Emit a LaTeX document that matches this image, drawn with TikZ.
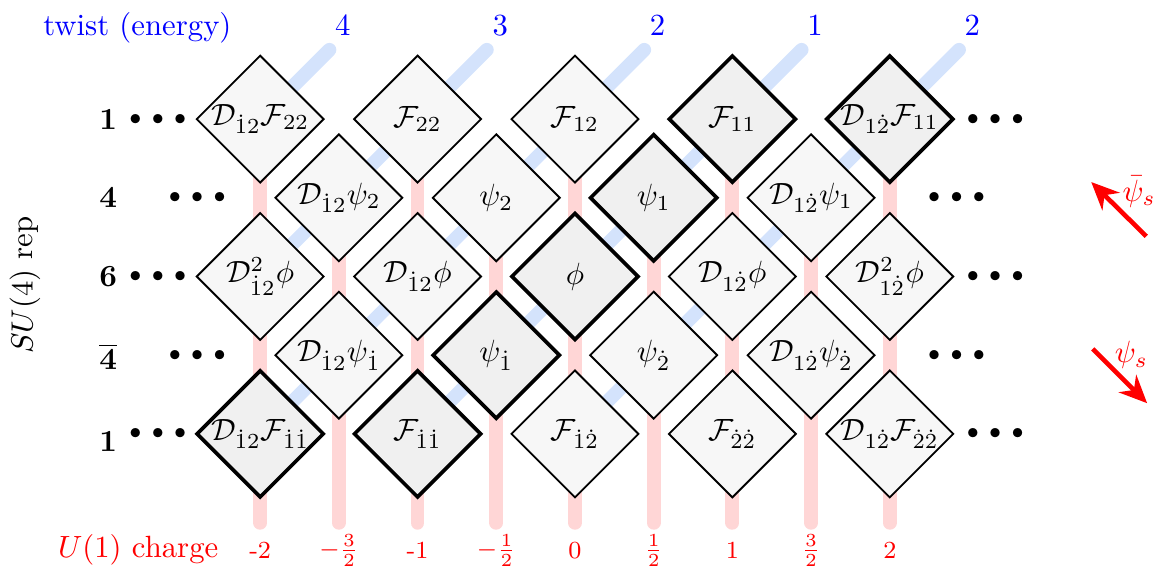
\documentclass[tikz,border=0pt]{standalone}
\usepackage{amsmath,amssymb}
\usepackage{xcolor}
\usetikzlibrary{arrows.meta,positioning,calc,backgrounds,shapes.geometric}
\definecolor{TwC}{RGB}{212,227,252}
\definecolor{ChC}{RGB}{255,214,214}
\definecolor{OpC}{RGB}{247,247,247}
\definecolor{OpK}{RGB}{240,240,240}
\tikzset{
  op/.style={diamond,draw=black,semithick,fill=OpC,minimum size=14.6mm,inner sep=0pt},
  opk/.style={op,very thick,fill=OpK},
  twl/.style={line width=4.5pt,line cap=round,TwC},
  chl/.style={line width=4.5pt,line cap=round,ChC},
  twn/.style={text=blue},
  chn/.style={text=red,font=\footnotesize},
  rep/.style={font=\bfseries},
  dots/.style={font=\scriptsize},
  flow/.style={-{Stealth[length=9pt,width=8pt]},line width=1.5pt,red},
}

\begin{document}
\begin{tikzpicture}[x=0.9cm,y=0.9cm]
  \useasboundingbox (-7.306,-3.691) rectangle (7.370,3.513);

  % operators, one row per SU(4) rep
  \node[op, label=center:{$\mathcal{D}_{\dot{1}2}\mathcal{F}_{22}$}] (DaF22) at (-4,2) {};
  \node[op, label=center:{$\mathcal{F}_{22}$}] (F22) at (-2,2) {};
  \node[op, label=center:{$\mathcal{F}_{12}$}] (F12) at (0,2) {};
  \node[opk,label=center:{$\mathcal{F}_{11}$}] (F11) at (2,2) {};
  \node[opk,label=center:{$\mathcal{D}_{1\dot{2}}\mathcal{F}_{11}$}] (DbF11) at (4,2) {};

  \node[op, label=center:{$\mathcal{D}_{\dot{1}2}\psi_2$}] (DaPsi2) at (-3,1) {};
  \node[op, label=center:{$\psi_2$}] (Psi2) at (-1,1) {};
  \node[opk,label=center:{$\psi_1$}] (Psi1) at (1,1) {};
  \node[op, label=center:{$\mathcal{D}_{1\dot{2}}\psi_1$}] (DbPsi1) at (3,1) {};

  \node[op, label=center:{$\mathcal{D}_{\dot{1}2}^2\phi$}] (DDaPhi) at (-4,0) {};
  \node[op, label=center:{$\mathcal{D}_{\dot{1}2}\phi$}] (DaPhi) at (-2,0) {};
  \node[opk,label=center:{$\phi$}] (Phi) at (0,0) {};
  \node[op, label=center:{$\mathcal{D}_{1\dot{2}}\phi$}] (DbPhi) at (2,0) {};
  \node[op, label=center:{$\mathcal{D}_{1\dot{2}}^2\phi$}] (DDbPhi) at (4,0) {};

  \node[op, label=center:{$\mathcal{D}_{\dot{1}2}\psi_{\dot{1}}$}] (DaPsia) at (-3,-1) {};
  \node[opk,label=center:{$\psi_{\dot{1}}$}] (Psia) at (-1,-1) {};
  \node[op, label=center:{$\psi_{\dot{2}}$}] (Psib) at (1,-1) {};
  \node[op, label=center:{$\mathcal{D}_{1\dot{2}}\psi_{\dot{2}}$}] (DbPsib) at (3,-1) {};

  \node[opk,label=center:{$\mathcal{D}_{\dot{1}2}\mathcal{F}_{\dot{1}\dot{1}}$}] (DaFaa) at (-4,-2) {};
  \node[opk,label=center:{$\mathcal{F}_{\dot{1}\dot{1}}$}] (Faa) at (-2,-2) {};
  \node[op, label=center:{$\mathcal{F}_{\dot{1}\dot{2}}$}] (Fab) at (0,-2) {};
  \node[op, label=center:{$\mathcal{F}_{\dot{2}\dot{2}}$}] (Fbb) at (2,-2) {};
  \node[op, label=center:{$\mathcal{D}_{1\dot{2}}\mathcal{F}_{\dot{2}\dot{2}}$}] (DbFbb) at (4,-2) {};

  \begin{scope}[on background layer]
    % twist lines
    \coordinate (tw4)  at (-3.12,2.88);
    \coordinate (tw3)  at (-1.12,2.88);
    \coordinate (tw2)  at ( 0.88,2.88);
    \coordinate (tw1)  at ( 2.88,2.88);
    \coordinate (tw2b) at ( 4.88,2.88);
    \draw[twl] (tw4)  -- (DaF22.center);
    \draw[twl] (tw3)  -- (DDaPhi.center);
    \draw[twl] (tw2)  -- (DaFaa.center);
    \draw[twl] (tw1)  -- (Faa.center);
    \draw[twl] (tw2b) -- (Fab.center);

    % U(1) charge bars
    \foreach \c/\top/\q in {-4/DaF22/-2, -3/DaPsi2/{$-\frac{3}{2}$}, -2/F22/-1,
                            -1/Psi2/{$-\frac{1}{2}$}, 0/F12/0, 1/Psi1/{$\frac{1}{2}$},
                            2/F11/1, 3/DbPsi1/{$\frac{3}{2}$}, 4/DbF11/2} {
      \coordinate (q\c) at (\c,-3.13);
      \draw[chl] (\top.center) -- (q\c);
      \node[chn] at (\c,-3.48) {\q};
    }
  \end{scope}

  \path (tw4)  ++(0.17,0.31) node[twn] (n4)  {4};
  \path (tw3)  ++(0.17,0.31) node[twn] (n3)  {3};
  \path (tw2)  ++(0.17,0.31) node[twn] (n2)  {2};
  \path (tw1)  ++(0.17,0.31) node[twn] (n1)  {1};
  \path (tw2b) ++(0.17,0.31) node[twn] (n2b) {2};
  \node[twn] (twist) at (-5.56,3.16) {twist (energy)};
  \node[text=red] (charge) at (-5.55,-3.47) {$U(1)$ charge};

  % SU(4) reps and the dots on both sides
  \node[rotate=90] (su4) at (-6.99,-0.11) {$SU(4)$ rep};
  \node[rep] (r1)  at (-5.93,2)  {1};
  \node[rep] (r4)  at (-5.93,1)  {4};
  \node[rep] (r6)  at (-5.93,0)  {6};
  \node[rep] (r4b) at (-5.93,-1.02) {$\overline{\mathbf{4}}$};
  \node[rep] (r1b) at (-5.93,-2.1) {1};
  \node[dots] (l1)  at (-5.30,2)  {$\bullet\,\bullet\,\bullet$};
  \node[dots] (l4)  at (-4.80,1)  {$\bullet\,\bullet\,\bullet$};
  \node[dots] (l6)  at (-5.30,0)  {$\bullet\,\bullet\,\bullet$};
  \node[dots] (l4b) at (-4.80,-1) {$\bullet\,\bullet\,\bullet$};
  \node[dots] (l1b) at (-5.30,-2) {$\bullet\,\bullet\,\bullet$};
  \node[dots] (x1)  at (5.34,2)  {$\bullet\,\bullet\,\bullet$};
  \node[dots] (x4)  at (4.85,1)  {$\bullet\,\bullet\,\bullet$};
  \node[dots] (x6)  at (5.34,0)  {$\bullet\,\bullet\,\bullet$};
  \node[dots] (x4b) at (4.85,-1) {$\bullet\,\bullet\,\bullet$};
  \node[dots] (x1b) at (5.34,-2) {$\bullet\,\bullet\,\bullet$};

  % supercharges
  \coordinate (pb0) at (7.26,0.51);
  \coordinate (pb1) at (6.56,1.20);
  \coordinate (ps0) at (6.58,-0.92);
  \coordinate (ps1) at (7.27,-1.61);
  \draw[flow] (pb0) -- (pb1);
  \draw[flow] (ps0) -- (ps1);
  \node[text=red] (pbl) at (7.17,1.08) {$\bar{\psi}_s$};
  \node[text=red] (psl) at (7.07,-1.0) {$\psi_s$};
\end{tikzpicture}
\end{document}
